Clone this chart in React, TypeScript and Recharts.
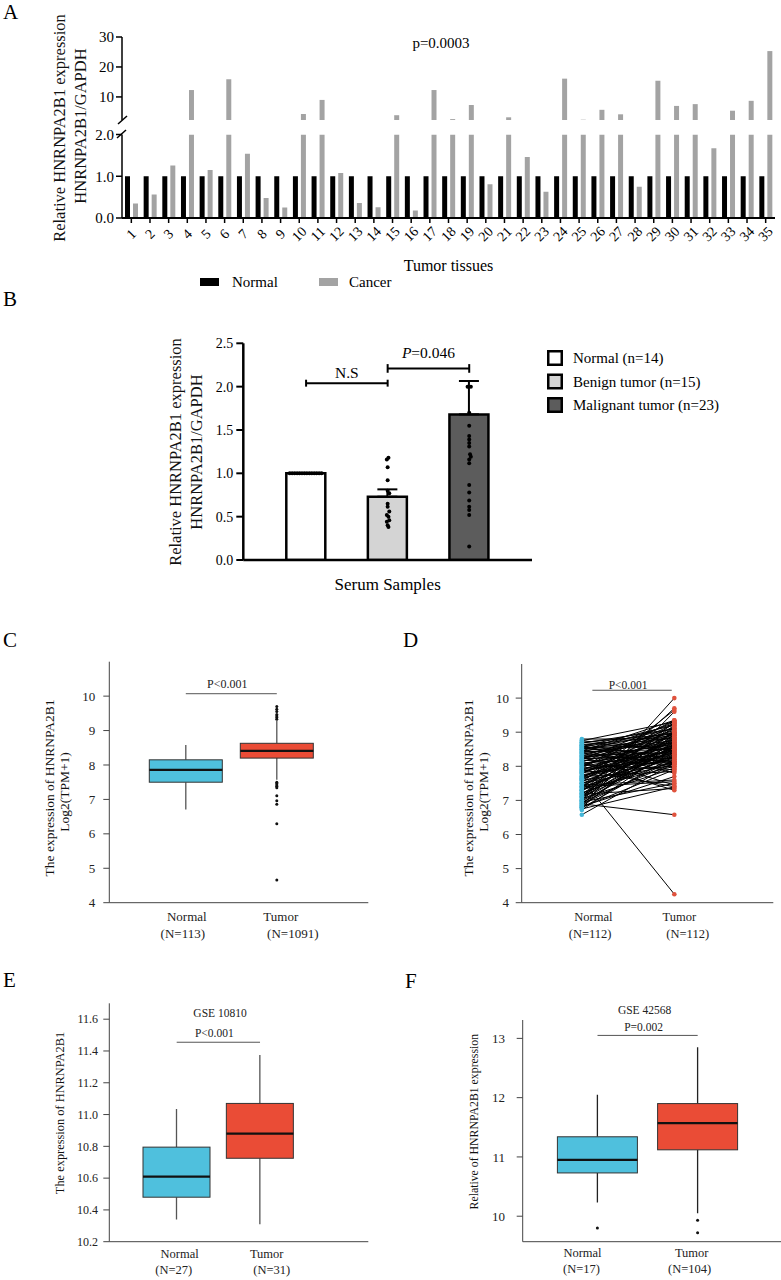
import React from 'react';
import {
  BarChart, Bar, XAxis, YAxis, ComposedChart, Scatter, ErrorBar, ReferenceLine, Line, Cell, Label,
} from 'recharts';

const SERIF = '"Liberation Serif","Times New Roman",Times,serif';

// ===== Panel A: paired tissues =====
const tissueIds = ['1','2','3','4','5','6','7','8','9','10','11','12','13','14','15','16','17','18','19','20','21','22','23','24','25','26','27','28','29','30','31','32','33','34','35'];
const tissueNormal = [1,1,1,1,1,1,1,1,1,1,1,1,1,1,1,1,1,1,1,1,1,1,1,1,1,1,1,1,1,1,1,1,1,1,1];
const tissueCancer = [0.35,0.56,1.26,12.3,1.15,15.9,1.54,0.48,0.25,4.3,9.0,1.08,0.36,0.26,3.9,0.18,12.3,2.6,7.3,0.81,3.2,1.46,0.63,16.1,2.4,5.7,4.2,0.75,15.4,7.0,7.6,1.67,5.4,8.7,25.3];
const tissueUpperTicks = [10, 20, 30];
const tissueLowerTicks = [0, 0.5, 1, 1.5, 2];
const tissueSeries = ['Normal', 'Cancer'];
const tissueP = 'p=0.0003';

// ===== Panel B: serum samples =====
const serumGroups = ['Normal', 'Benign', 'Malignant'];
const serumLegend = ['Normal (n=14)', 'Benign tumor (n=15)', 'Malignant tumor (n=23)'];
const serumMean = [1.0, 0.73, 1.68];
const serumSem = [0, 0.085, 0.385];
const serumTicks = [0, 0.5, 1, 1.5, 2, 2.5];
const serumNormalPts = [1,1,1,1,1,1,1,1,1,1,1,1,1,1];
const serumNormalJitter = [-0.2,-0.17,-0.14,-0.11,-0.08,-0.05,-0.02,0.01,0.04,0.07,0.1,0.13,0.16,0.19];
const serumBenignPts = [1.18,1.16,1.07,0.92,0.8,0.77,0.65,0.615,0.56,0.52,0.5,0.46,0.44,0.4,0.38];
const serumBenignJitter = [0.01,-0.01,0,0,0,0.02,0,0,0.02,-0.01,0.01,0.02,-0.01,0,0.01];
const serumMalignantPts = [2.0,2.0,1.7,1.55,1.43,1.39,1.35,1.31,1.22,1.19,1.16,1.115,0.865,0.78,0.685,0.615,0.577,0.52,0.155];
const serumMalignantJitter = [-0.02,0.02,0,0,0,0,0,0,0.01,0.02,0,0,0,0,0,0,0,0,0];

// ===== Panel C: TCGA unpaired =====
const exprGroups = ['Normal', 'Tumor'];
const tcgaLabels = [['Normal', '(N=113)'], ['Tumor', '(N=1091)']];
const tcgaQ1 = [7.5, 8.2];
const tcgaMedian = [7.86, 8.41];
const tcgaQ3 = [8.15, 8.63];
const tcgaLow = [6.71, 7.57];
const tcgaHigh = [8.58, 9.28];
const tcgaNormalOut: number[] = [];
const tcgaTumorOut = [9.33,9.38,9.42,9.47,9.55,9.62,9.7,7.5,7.46,7.42,7.38,7.34,7.11,6.96,6.86,6.29,4.66];
const tcgaTicks = [4, 5, 6, 7, 8, 9, 10];

// ===== Panel D: TCGA paired =====
const pairedLabels = [['Normal', '(N=112)'], ['Tumor', '(N=112)']];
const pairedNormal = [8.8,8.75,8.7,8.68,8.65,8.62,8.6,8.58,8.55,8.52,8.5,8.48,8.45,8.42,8.4,8.38,8.35,8.32,8.3,8.28,8.25,8.22,8.2,8.18,8.15,8.12,8.1,8.08,8.05,8.02,8.0,7.98,7.95,7.92,7.9,7.88,7.85,7.82,7.8,7.78,7.75,7.72,7.7,7.68,7.65,7.62,7.6,7.58,7.55,7.52,7.5,7.48,7.45,7.42,7.4,7.38,7.35,7.32,7.3,7.28,7.25,7.22,7.2,7.18,7.15,7.12,7.1,7.08,7.05,7.02,7.0,6.98,6.95,6.92,6.9,6.88,6.85,6.82,6.8,6.78,6.75,6.72,6.58,8.45,8.1,7.95,8.6,7.4,8.25,7.85,8.7,8.55,8.4,8.3,8.2,8.05,7.9,7.8,7.7,7.6,7.5,7.4,7.3,7.2,7.1,7.0,6.95,6.85,6.8,8.75,8.5,7.65];
const pairedTumor = [8.8,9.3,8.45,9.1,8.2,8.9,7.95,9.2,8.6,8.35,9.0,7.8,8.75,8.5,9.25,8.1,8.85,8.4,9.05,7.45,8.65,8.3,8.95,8.05,8.7,9.15,8.25,8.55,7.9,8.8,8.45,9.35,8.15,8.6,7.4,8.9,8.35,8.0,8.7,9.1,8.2,8.5,7.85,8.75,8.4,4.25,9.0,8.1,8.55,9.65,8.3,8.85,7.6,8.65,8.25,9.2,8.45,8.0,8.9,8.6,9.7,8.15,8.8,7.35,8.5,9.3,8.35,8.7,7.95,9.05,10.0,8.4,7.5,8.65,6.58,8.2,9.6,7.7,8.95,8.3,7.4,8.55,8.1,9.35,7.3,9.25,8.05,7.55,9.0,8.5,8.95,9.1,8.7,8.15,9.3,8.6,8.25,8.95,8.4,8.8,8.05,9.15,8.5,8.3,9.0,8.6,8.1,8.75,7.9,8.5,8.85,9.25];
const pairedTicks = [4, 5, 6, 7, 8, 9, 10];

// ===== Panel E: GSE10810 =====
const gse1Labels = [['Normal', '(N=27)'], ['Tumor', '(N=31)']];
const gse1Q1 = [10.48, 10.725];
const gse1Median = [10.61, 10.88];
const gse1Q3 = [10.795, 11.07];
const gse1Low = [10.34, 10.31];
const gse1High = [11.035, 11.375];
const gse1Ticks = [10.2, 10.4, 10.6, 10.8, 11.0, 11.2, 11.4, 11.6];

// ===== Panel F: GSE42568 =====
const gse2Labels = [['Normal', '(N=17)'], ['Tumor', '(N=104)']];
const gse2Q1 = [10.73, 11.12];
const gse2Median = [10.95, 11.57];
const gse2Q3 = [11.34, 11.9];
const gse2Low = [10.23, 10.05];
const gse2High = [12.05, 12.85];
const gse2NormalOut = [9.8];
const gse2TumorOut = [9.93, 9.72];
const gse2Ticks = [10, 11, 12, 13];

const BOX_FILLS = ['#4fc0dd', '#ea4c36'];

const boxRows = (q1: number[], med: number[], q3: number[], lo: number[], hi: number[], outs: number[][]) =>
  exprGroups.map((name, i) => ({ name, box: [q1[i], q3[i]], q1: q1[i], q3: q3[i], med: med[i], lo: lo[i], hi: hi[i], out: outs[i] }));

const makeBoxShape = (whisker: string) => (props: any) => {
  const { x, y, width, height, payload, index } = props;
  if (!payload || height == null) return null;
  const ppu = height / (payload.q3 - payload.q1);
  const Y = (v: number) => y + (payload.q3 - v) * ppu;
  const cx = x + width / 2;
  return (
    <g>
      <line x1={cx} x2={cx} y1={Y(payload.hi)} y2={y} stroke={whisker} strokeWidth={1.3} />
      <line x1={cx} x2={cx} y1={y + height} y2={Y(payload.lo)} stroke={whisker} strokeWidth={1.3} />
      <rect x={x} y={y} width={width} height={height} fill={BOX_FILLS[index]} stroke="#333" strokeWidth={1} />
      <line x1={x} x2={x + width} y1={Y(payload.med)} y2={Y(payload.med)} stroke="#111" strokeWidth={2.2} />
      {(payload.out || []).map((v: number, k: number) => (
        <circle key={k} cx={cx} cy={Y(v)} r={1.5} fill="#111" />
      ))}
    </g>
  );
};

const twoLineTick = (labels: string[][], dxs: number[][], dys: number[], size: number) => (p: any) => {
  const { x, y, index } = p;
  const lab = labels[index] || ['', ''];
  const dx = dxs[index] || [0, 0];
  return (
    <g>
      <text x={x + dx[0]} y={y + dys[0]} textAnchor="middle" fontSize={size} fontFamily={SERIF} fill="#222">{lab[0]}</text>
      <text x={x + dx[1]} y={y + dys[1]} textAnchor="middle" fontSize={size} fontFamily={SERIF} fill="#222">{lab[1]}</text>
    </g>
  );
};

const bracketLabel = (lines: { text: string; dx: number; dy: number; italicFirst?: boolean }[], size: number, fill = '#222') => (props: any) => {
  const vb = props.viewBox || { x: 0, y: 0, width: 0 };
  const cx = vb.x + vb.width / 2;
  return (
    <g>
      {lines.map((l, i) => (
        <text key={i} x={cx + l.dx} y={vb.y - l.dy} textAnchor="middle" fontSize={size} fontFamily={SERIF} fill={fill}>
          {l.italicFirst ? (<><tspan fontStyle="italic">{l.text[0]}</tspan>{l.text.slice(1)}</>) : l.text}
        </text>
      ))}
    </g>
  );
};

const TissueTick = (p: any) => {
  const { x, y, payload } = p;
  const cy = y + 9;
  return (
    <text x={x} y={cy} textAnchor="middle" dominantBaseline="central" fontSize={14} fontFamily={SERIF} fill="#000"
      transform={`rotate(-45 ${x} ${cy})`}>{payload.value}</text>
  );
};

const VLabel = ({ x, y, size, text }: { x: number; y: number; size: number; text: string }) => (
  <text x={x} y={y} transform={`rotate(-90 ${x} ${y})`} textAnchor="middle" fontSize={size} fontFamily={SERIF} fill="#111">{text}</text>
);

const fmt1 = (v: number) => v.toFixed(1);

export default function App() {
  const upperData = tissueIds.map((id, i) => ({
    id,
    normal: tissueNormal[i] > 2 ? tissueNormal[i] : null,
    cancer: tissueCancer[i] > 2 ? tissueCancer[i] : null,
  }));
  const lowerData = tissueIds.map((id, i) => ({
    id,
    normal: Math.min(tissueNormal[i], 2),
    cancer: Math.min(tissueCancer[i], 2),
  }));
  const serumRows = serumGroups.map((name, i) => ({ name, mean: serumMean[i], err: [0, serumSem[i]] }));
  const serumPts = [
    ...serumNormalPts.map((v, i) => ({ x: 0.5 + serumNormalJitter[i], y: v })),
    ...serumBenignPts.map((v, i) => ({ x: 1.5 + serumBenignJitter[i], y: v })),
    ...serumMalignantPts.map((v, i) => ({ x: 2.5 + serumMalignantJitter[i], y: v })),
  ];
  const serumFills = ['#ffffff', '#d4d4d4', '#5c5c5c'];

  const tcgaRows = boxRows(tcgaQ1, tcgaMedian, tcgaQ3, tcgaLow, tcgaHigh, [tcgaNormalOut, tcgaTumorOut]);
  const gse1Rows = boxRows(gse1Q1, gse1Median, gse1Q3, gse1Low, gse1High, [[], []]);
  const gse2Rows = boxRows(gse2Q1, gse2Median, gse2Q3, gse2Low, gse2High, [gse2NormalOut, gse2TumorOut]);

  const pairLines = pairedNormal.flatMap((n, i) => [{ x: 0, y: n }, { x: 1, y: pairedTumor[i] }, { x: 0.5, y: null }]);
  const pairNormalDots = pairedNormal.map((v) => ({ x: 0, y: v }));
  const pairTumorDots = pairedTumor.map((v) => ({ x: 1, y: v }));

  const axisGray = { stroke: '#444', strokeWidth: 1 };
  const tickFont = (size: number, fill = '#222') => ({ fontSize: size, fontFamily: SERIF, fill });

  return (
    <div style={{ position: 'relative', width: 781, height: 1280, background: '#fff', overflow: 'hidden' }}>
      <style>{'body{margin:0} svg text{font-family:"Liberation Serif","Times New Roman",Times,serif}'}</style>

      {/* Panel A upper segment */}
      <div style={{ position: 'absolute', left: 0, top: 0 }}>
        <BarChart width={781} height={125} data={upperData} margin={{ top: 37, right: 6, bottom: 5, left: 0 }} barGap={3}>
          <XAxis dataKey="id" hide />
          <YAxis width={122} domain={[2.3, 30]} allowDataOverflow ticks={tissueUpperTicks} tick={tickFont(15, '#000')}
            tickLine={{ stroke: '#000', strokeWidth: 1.5 }} axisLine={{ stroke: '#000', strokeWidth: 1.5 }} tickSize={6} tickMargin={2} />
          <Bar dataKey="normal" fill="#000" barSize={5} isAnimationActive={false} />
          <Bar dataKey="cancer" fill="#a3a3a3" barSize={5} isAnimationActive={false} />
        </BarChart>
      </div>

      {/* Panel A lower segment */}
      <div style={{ position: 'absolute', left: 0, top: 0 }}>
        <BarChart width={781} height={278} data={lowerData} margin={{ top: 134.5, right: 6, bottom: 0, left: 0 }} barGap={3}>
          <XAxis dataKey="id" interval={0} height={60} tick={<TissueTick />} tickSize={5} tickMargin={2}
            tickLine={{ stroke: '#000', strokeWidth: 1.5 }} axisLine={{ stroke: '#000', strokeWidth: 2 }}>
            <Label value="Tumor tissues" position="insideBottom" offset={7} fontSize={16} fontFamily={SERIF} fill="#000" />
          </XAxis>
          <YAxis width={122} domain={[0, 2]} allowDataOverflow ticks={tissueLowerTicks} tickFormatter={fmt1} tick={tickFont(15, '#000')}
            tickLine={{ stroke: '#000', strokeWidth: 1.5 }} axisLine={{ stroke: '#000', strokeWidth: 1.5 }} tickSize={6} tickMargin={2} />
          <Bar dataKey="normal" fill="#000" barSize={5} isAnimationActive={false} />
          <Bar dataKey="cancer" fill="#a3a3a3" barSize={5} isAnimationActive={false} />
        </BarChart>
      </div>

      {/* Panel B */}
      <div style={{ position: 'absolute', left: 0, top: 300 }}>
        <ComposedChart width={540} height={298} data={serumRows} margin={{ top: 43.3, right: 8, bottom: 0, left: 0 }}>
          <XAxis dataKey="name" padding={{ left: 22, right: 22 }} tick={false} tickLine={false} height={38}
            axisLine={{ stroke: '#000', strokeWidth: 2.5 }}>
            <Label value="Serum Samples" position="insideBottom" offset={8} fontSize={17} fontFamily={SERIF} fill="#000" />
          </XAxis>
          <XAxis xAxisId="jit" type="number" dataKey="x" domain={[0, 3]} padding={{ left: 22, right: 22 }} hide allowDataOverflow />
          <YAxis width={243.3} domain={[0, 2.5]} allowDataOverflow ticks={serumTicks} tickFormatter={fmt1} tick={tickFont(14, '#000')}
            tickLine={{ stroke: '#000', strokeWidth: 2 }} axisLine={{ stroke: '#000', strokeWidth: 2.5 }} tickSize={7} tickMargin={3} />
          <Bar dataKey="mean" barSize={39} stroke="#000" strokeWidth={2.5} isAnimationActive={false}>
            {serumRows.map((r, i) => <Cell key={r.name} fill={serumFills[i]} />)}
            <ErrorBar dataKey="err" width={10} stroke="#000" strokeWidth={2} direction="y" />
          </Bar>
          <Scatter xAxisId="jit" data={serumPts} dataKey="y" isAnimationActive={false}
            shape={(p: any) => <circle cx={p.cx} cy={p.cy} r={2} fill="#000" />} />
          <ReferenceLine segment={[{ x: 'Normal', y: 2.04 }, { x: 'Benign', y: 2.04 }]} stroke="#000" strokeWidth={2}
            label={bracketLabel([{ text: 'N.S', dx: 0, dy: 5 }], 15.5, '#000')} />
          <ReferenceLine segment={[{ x: 'Normal', y: 2.0 }, { x: 'Normal', y: 2.08 }]} stroke="#000" strokeWidth={2} />
          <ReferenceLine segment={[{ x: 'Benign', y: 2.0 }, { x: 'Benign', y: 2.08 }]} stroke="#000" strokeWidth={2} />
          <ReferenceLine segment={[{ x: 'Benign', y: 2.21 }, { x: 'Malignant', y: 2.21 }]} stroke="#000" strokeWidth={2}
            label={bracketLabel([{ text: 'P=0.046', dx: 0, dy: 10, italicFirst: true }], 15.5, '#000')} />
          <ReferenceLine segment={[{ x: 'Benign', y: 2.16 }, { x: 'Benign', y: 2.26 }]} stroke="#000" strokeWidth={2} />
          <ReferenceLine segment={[{ x: 'Malignant', y: 2.16 }, { x: 'Malignant', y: 2.26 }]} stroke="#000" strokeWidth={2} />
        </ComposedChart>
      </div>

      {/* Panel C */}
      <div style={{ position: 'absolute', left: 0, top: 640 }}>
        <ComposedChart width={380} height={312} data={tcgaRows} margin={{ top: 21.7, right: 11.7, bottom: 12, left: 0 }}>
          <XAxis dataKey="name" padding={{ left: 31, right: 46 }} height={37.3} tickLine={false} tickSize={0} tickMargin={0}
            axisLine={axisGray} tick={twoLineTick(tcgaLabels, [[1, -3], [4, 16]], [18.5, 35], 13)} />
          <YAxis width={109.3} domain={[4, 11]} allowDataOverflow ticks={tcgaTicks} tick={tickFont(13)}
            tickLine={axisGray} axisLine={axisGray} tickSize={6} tickMargin={8} />
          <Bar dataKey="box" barSize={73} isAnimationActive={false} shape={makeBoxShape('#555')} />
          <ReferenceLine segment={[{ x: 'Normal', y: 10.07 }, { x: 'Tumor', y: 10.07 }]} stroke="#555" strokeWidth={1}
            label={bracketLabel([{ text: 'P<0.001', dx: -4, dy: 6 }], 12)} />
        </ComposedChart>
      </div>

      {/* Panel D */}
      <div style={{ position: 'absolute', left: 400, top: 640 }}>
        <ComposedChart width={381} height={312} margin={{ top: 24, right: 7.7, bottom: 12, left: 0 }}>
          <XAxis type="number" dataKey="x" domain={[-0.65, 2.07]} allowDataOverflow ticks={[0, 1]} height={37.3}
            tickLine={false} tickSize={0} tickMargin={0} axisLine={axisGray}
            tick={twoLineTick(pairedLabels, [[11.6, 8.3], [5, 13.4]], [18.5, 35], 12.5)} />
          <YAxis width={121.7} domain={[4, 11]} allowDataOverflow ticks={pairedTicks} tick={tickFont(13)}
            tickLine={axisGray} axisLine={axisGray} tickSize={6} tickMargin={6.7} />
          <Line data={pairLines} dataKey="y" stroke="#000" strokeWidth={1} dot={false} connectNulls={false}
            isAnimationActive={false} type="linear" />
          <Scatter data={pairNormalDots} dataKey="y" isAnimationActive={false}
            shape={(p: any) => <circle cx={p.cx} cy={p.cy} r={2.3} fill="#45b7d8" />} />
          <Scatter data={pairTumorDots} dataKey="y" isAnimationActive={false}
            shape={(p: any) => <circle cx={p.cx} cy={p.cy} r={2.3} fill="#e0533e" />} />
          <ReferenceLine segment={[{ x: 0.114, y: 10.23 }, { x: 0.972, y: 10.23 }]} stroke="#555" strokeWidth={1}
            label={bracketLabel([{ text: 'P<0.001', dx: -4, dy: 1.5 }], 11.5)} />
        </ComposedChart>
      </div>

      {/* Panel E */}
      <div style={{ position: 'absolute', left: 0, top: 990 }}>
        <ComposedChart width={380} height={290} data={gse1Rows} margin={{ top: 13.3, right: 11.7, bottom: 0, left: 0 }}>
          <XAxis dataKey="name" padding={{ left: 25.7, right: 66.6 }} height={38.3} tickLine={false} tickSize={0} tickMargin={0}
            axisLine={axisGray} tick={twoLineTick(gse1Labels, [[3, -3], [6.7, 11.7]], [15.8, 32.3], 12.5)} />
          <YAxis width={109.3} domain={[10.2, 11.7]} allowDataOverflow ticks={gse1Ticks} tickFormatter={fmt1} tick={tickFont(12)}
            tickLine={axisGray} axisLine={axisGray} tickSize={6} tickMargin={5.3} />
          <Bar dataKey="box" barSize={67} isAnimationActive={false} shape={makeBoxShape('#555')} />
          <ReferenceLine segment={[{ x: 'Normal', y: 11.455 }, { x: 'Tumor', y: 11.455 }]} stroke="#555" strokeWidth={1}
            label={bracketLabel([{ text: 'P<0.001', dx: -4, dy: 5 }, { text: 'GSE 10810', dx: 1.7, dy: 25 }], 11.5)} />
        </ComposedChart>
      </div>

      {/* Panel F */}
      <div style={{ position: 'absolute', left: 400, top: 990 }}>
        <ComposedChart width={381} height={290} data={gse2Rows} margin={{ top: 30, right: 0, bottom: 0, left: 0 }}>
          <XAxis dataKey="name" padding={{ left: 24.7, right: 33.2 }} height={38.3} tickLine={false} tickSize={0} tickMargin={0}
            axisLine={axisGray} tick={twoLineTick(gse2Labels, [[-15, -16], [-6, -8]], [15, 31], 12.5)} />
          <YAxis width={122.7} domain={[9.57, 13.31]} allowDataOverflow ticks={gse2Ticks} tick={tickFont(13)}
            tickLine={axisGray} axisLine={axisGray} tickSize={6} tickMargin={11.7} />
          <Bar dataKey="box" barSize={80} isAnimationActive={false} shape={makeBoxShape('#222')} />
          <ReferenceLine segment={[{ x: 'Normal', y: 13.05 }, { x: 'Tumor', y: 13.05 }]} stroke="#555" strokeWidth={1}
            label={bracketLabel([{ text: 'P=0.002', dx: -4, dy: 4.3 }, { text: 'GSE 42568', dx: -3, dy: 21.3 }], 11.5)} />
        </ComposedChart>
      </div>

      {/* Text overlay: panel letters, axis titles, legends */}
      <svg width={781} height={1280} style={{ position: 'absolute', left: 0, top: 0, pointerEvents: 'none' }}>
        <g fontFamily={SERIF} fontSize={21} fill="#000">
          <text x={3} y={18.5}>A</text>
          <text x={3} y={306}>B</text>
          <text x={3} y={647}>C</text>
          <text x={403} y={647}>D</text>
          <text x={3} y={987}>E</text>
          <text x={405} y={988}>F</text>
        </g>
        <text x={441} y={48} textAnchor="middle" fontSize={15} fontFamily={SERIF} fill="#000">{tissueP}</text>
        {/* axis break marks */}
        <line x1={118} y1={124} x2={127} y2={116} stroke="#000" strokeWidth={1.5} />
        <line x1={117} y1={138} x2={126} y2={130} stroke="#000" strokeWidth={1.5} />

        <VLabel x={65} y={128} size={16.5} text="Relative HNRNPA2B1 expression" />
        <VLabel x={86} y={126} size={16.5} text="HNRNPA2B1/GAPDH" />
        <VLabel x={181} y={452} size={16.5} text="Relative HNRNPA2B1 expression" />
        <VLabel x={201.5} y={452} size={16.5} text="HNRNPA2B1/GAPDH" />
        <VLabel x={54} y={788} size={13.5} text="The expression of HNRNPA2B1" />
        <VLabel x={69} y={792} size={13.5} text="Log2(TPM+1)" />
        <VLabel x={473} y={788} size={13.5} text="The expression of HNRNPA2B1" />
        <VLabel x={487.5} y={792} size={13.5} text="Log2(TPM+1)" />
        <VLabel x={63.5} y={1113} size={12.4} text="The expression of HNRNPA2B1" />
        <VLabel x={478} y={1121.7} size={11.8} text="Relative of HNRNPA2B1 expression" />

        {/* Legend A */}
        <rect x={200} y={278} width={19} height={8} fill="#000" />
        <text x={232} y={287} fontSize={15} fontFamily={SERIF} fill="#000">{tissueSeries[0]}</text>
        <rect x={319} y={278} width={19} height={8} fill="#a3a3a3" />
        <text x={349} y={287} fontSize={15} fontFamily={SERIF} fill="#000">{tissueSeries[1]}</text>

        {/* Legend B */}
        {serumLegend.map((t, i) => {
          const cy = [358, 381.5, 405][i];
          return (
            <g key={t}>
              <rect x={548.25} y={cy - 6.75} width={13.5} height={13.5} fill={serumFills[i]} stroke="#000" strokeWidth={2.5} />
              <text x={573} y={cy + 5} fontSize={15} fontFamily={SERIF} fill="#000">{t}</text>
            </g>
          );
        })}
      </svg>
    </div>
  );
}
